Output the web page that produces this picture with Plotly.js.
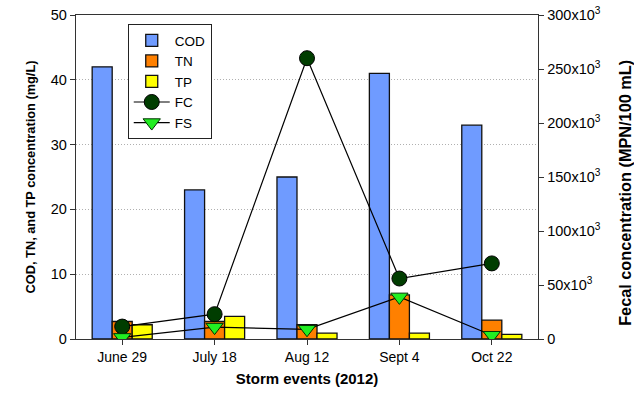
<!DOCTYPE html>
<html>
<head>
<meta charset="utf-8">
<script src="https://cdn.plot.ly/plotly-3.0.1.min.js"></script>
<style>
  html, body { margin: 0; padding: 0; background: #fff; }
  #chart { width: 634px; height: 399px; }
</style>
</head>
<body>
<div id="chart"></div>
<script>
// Storm events sampled in 2012
const events = ["June 29", "July 18", "Aug 12", "Sept 4", "Oct 22"];

// Concentrations in mg/L (left axis)
const cod = [42, 23, 25, 41, 33];
const tn = [2.7, 2.7, 2.2, 6.8, 2.9];
const tp = [2.2, 3.5, 0.9, 0.9, 0.7];

// Fecal indicators in MPN/100 mL (right axis)
const fc = [11500, 23000, 260000, 56000, 70000];
const fs = [1500, 11000, 9000, 39000, 3500];

// Right-axis tick labels
const fecalTicks = [0, 50000, 100000, 150000, 200000, 250000, 300000];
const fecalTickText = fecalTicks.map(v => v === 0 ? "0" : (v / 1000) + "x10<sup>3</sup>");

const font = "'Liberation Sans', Arial, sans-serif";
const barLine = { color: "#111", width: 1.3 };

const traces = [
  { type: "bar", name: "COD", x: events, y: cod,
    marker: { color: "#6f9bff", line: barLine } },
  { type: "bar", name: "TN", x: events, y: tn,
    marker: { color: "#ff8000", line: barLine } },
  { type: "bar", name: "TP", x: events, y: tp,
    marker: { color: "#ffff00", line: barLine } },
  { type: "scatter", mode: "lines+markers", name: "FC", x: events, y: fc, yaxis: "y2",
    line: { color: "#000", width: 1.2 },
    marker: { symbol: "circle", size: 15, color: "#003d00", line: { color: "#000", width: 1 } } },
  { type: "scatter", mode: "lines+markers", name: "FS", x: events, y: fs, yaxis: "y2",
    line: { color: "#000", width: 1.2 },
    marker: { symbol: "triangle-down", size: 15, color: "#22ee22", line: { color: "#003300", width: 1 } } }
];

// trailing spaces nudge the rotated right-axis title slightly downward
const rightTitle = "<b>Fecal concentration (MPN/100 mL)</b>" + "&nbsp;".repeat(7);

const layout = {
  width: 634, height: 399,
  margin: { l: 76, r: 96, t: 15, b: 60 },
  paper_bgcolor: "#fff", plot_bgcolor: "#fff",
  font: { family: font, size: 14, color: "#000" },
  barmode: "group", bargap: 0.35, bargroupgap: 0,
  showlegend: true,
  legend: {
    x: 0.112, y: 0.972, xanchor: "left", yanchor: "top",
    bgcolor: "#fff", bordercolor: "#222", borderwidth: 1,
    font: { family: font, size: 13.5 }, tracegroupgap: 0, traceorder: "normal",
    entrywidth: 98, entrywidthmode: "pixels", itemwidth: 36
  },
  xaxis: {
    showline: true, linecolor: "#333", linewidth: 1.3, mirror: true,
    ticks: "outside", ticklen: 5, tickcolor: "#333",
    tickfont: { family: font, size: 14 },
    showgrid: false, zeroline: false,
    title: { text: "<b>Storm events (2012)</b>", font: { family: font, size: 15 }, standoff: 9 }
  },
  yaxis: {
    range: [0, 50], dtick: 10, tick0: 0,
    showline: true, linecolor: "#333", linewidth: 1.3,
    ticks: "outside", ticklen: 5, tickcolor: "#333",
    tickfont: { family: font, size: 14.5 },
    showgrid: true, gridcolor: "#b0b0b0", griddash: "1px,2px", gridwidth: 1,
    zeroline: false,
    title: { text: "<b>COD, TN, and TP concentration (mg/L)</b>", font: { family: font, size: 12.8 }, standoff: 12 }
  },
  yaxis2: {
    overlaying: "y", side: "right", range: [0, 300000],
    tickmode: "array", tickvals: fecalTicks, ticktext: fecalTickText,
    showline: true, linecolor: "#333", linewidth: 1.3,
    ticks: "outside", ticklen: 5, tickcolor: "#333",
    tickfont: { family: font, size: 14.5 },
    showgrid: false, zeroline: false,
    title: { text: rightTitle, font: { family: font, size: 16.3 }, standoff: 32 }
  }
};

Plotly.newPlot("chart", traces, layout, { displayModeBar: false, staticPlot: true });
</script>
</body>
</html>
